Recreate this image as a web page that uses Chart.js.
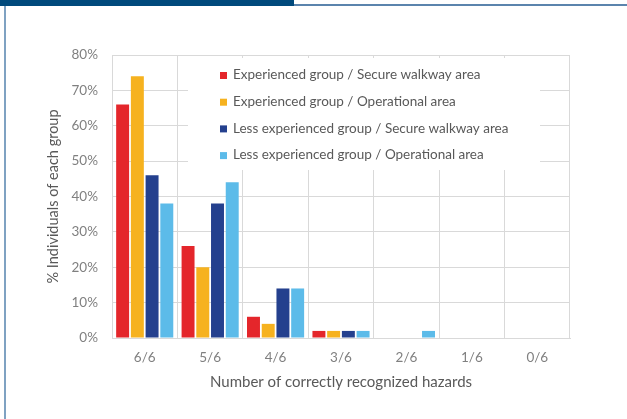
<!DOCTYPE html>
<html>
<head>
<meta charset="utf-8">
<script src="https://cdn.jsdelivr.net/npm/chart.js@4"></script>
<style>
  html, body { margin: 0; padding: 0; background: #fff; }
  #wrap { position: relative; width: 627px; height: 419px; overflow: hidden; }
  #topbar { position: absolute; left: 0; top: 0; width: 294px; height: 6px; background: #004a7c; }
  #topline { position: absolute; left: 294px; top: 4px; width: 333px; height: 2px; background: #5b84ad; }
  #leftline { position: absolute; left: 4px; top: 6px; width: 2px; height: 413px; background: #7fa2c2; }
  #c { position: absolute; left: 0; top: 0; }
</style>
</head>
<body>
<div id="wrap">
  <div id="topbar"></div>
  <div id="topline"></div>
  <div id="leftline"></div>
  <canvas id="c" width="627" height="419"></canvas>
</div>
<script>
// categories and series (values in %)
const categories = ["6/6", "5/6", "4/6", "3/6", "2/6", "1/6", "0/6"];
const seriesNames = [
  "Experienced group / Secure walkway area",
  "Experienced group / Operational area",
  "Less experienced group / Secure walkway area",
  "Less experienced group / Operational area"
];
const expSecure   = [66, 26, 6, 2, 0, 0, 0];
const expOper     = [74, 20, 4, 2, 0, 0, 0];
const lessSecure  = [46, 38, 14, 2, 0, 0, 0];
const lessOper    = [38, 44, 14, 2, 2, 0, 0];
const yTickLabels = ["0%", "10%", "20%", "30%", "40%", "50%", "60%", "70%", "80%"];

const colors = ["#e4262b", "#f6b21f", "#24408e", "#5cbbe9"];
const textGray = "#595959";
const tickGray = "#808080";
const fontFam = "Lato, 'Open Sans', sans-serif";

// white box behind the legend + the legend itself, inside the plot
const legendBox = {
  id: "legendBox",
  beforeDatasetsDraw(chart) {
    const a = chart.chartArea, ctx = chart.ctx;
    ctx.save();
    ctx.fillStyle = "#fff";
    ctx.fillRect(a.left + 76, a.top + 3, 352, 112);
    ctx.restore();
  },
  afterDraw(chart) {
    const a = chart.chartArea, ctx = chart.ctx;
    ctx.save();
    ctx.font = "13.5px " + fontFam;
    ctx.textBaseline = "middle";
    chart.data.datasets.forEach((ds, i) => {
      const y = a.top + 20 + i * 26.7;
      ctx.fillStyle = ds.backgroundColor;
      ctx.fillRect(a.left + 108, y - 3, 7, 7);
      ctx.fillStyle = textGray;
      ctx.fillText(ds.label, a.left + 121, y);
    });
    ctx.restore();
  }
};

const datasets = [expSecure, expOper, lessSecure, lessOper].map((d, i) => ({
  label: seriesNames[i],
  data: d,
  backgroundColor: colors[i],
  borderWidth: 0,
  categoryPercentage: 0.9,
  barPercentage: 0.88
}));

new Chart(document.getElementById("c"), {
  type: "bar",
  data: { labels: categories, datasets: datasets },
  plugins: [legendBox],
  options: {
    responsive: false,
    animation: false,
    events: [],
    layout: { padding: { left: 45, top: 55, right: 57, bottom: 28 } },
    plugins: { legend: { display: false }, tooltip: { enabled: false } },
    scales: {
      x: {
        grid: { color: "#d9d9d9", drawTicks: false, offset: true },
        border: { color: "#d9d9d9" },
        ticks: { color: tickGray, font: { family: fontFam, size: 13.5 }, padding: 12 },
        title: { display: true, text: "Number of correctly recognized hazards", color: textGray,
                 font: { family: fontFam, size: 15 }, padding: { top: 4, bottom: 0 } },
        afterFit(scale) { scale.height = 53; }
      },
      y: {
        min: 0, max: 80,
        grid: { color: "#d9d9d9", drawTicks: false },
        border: { color: "#d9d9d9" },
        ticks: { stepSize: 10, color: tickGray, font: { family: fontFam, size: 13.5 }, padding: 14,
                 callback: (v) => yTickLabels[Math.round(v / 10)] },
        title: { display: true, text: "% Individuals of each group", color: textGray,
                 font: { family: fontFam, size: 14.5 }, padding: 0 },
        afterFit(scale) { scale.width = 67; }
      }
    }
  }
});
</script>
</body>
</html>
